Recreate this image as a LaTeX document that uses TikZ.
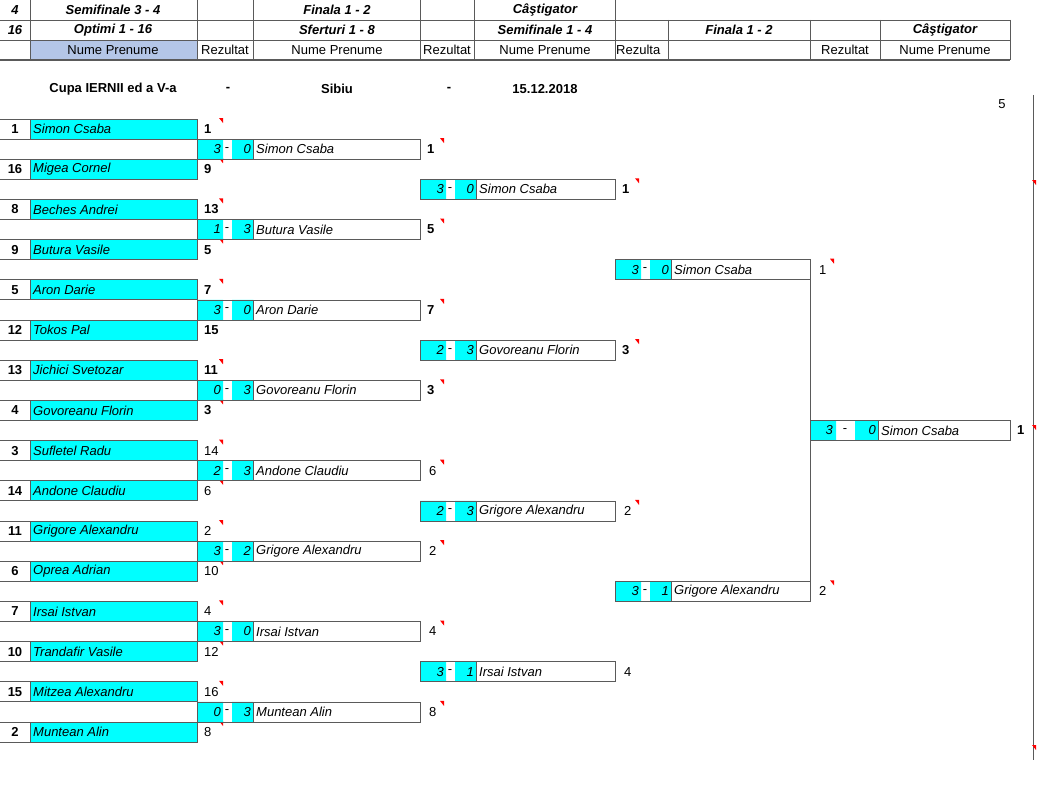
\documentclass[tikz,border=0pt]{standalone}
\usepackage{fontspec}
\setmainfont{Liberation Sans}
\definecolor{cellcyan}{RGB}{0,255,255}
\definecolor{hdrblue}{RGB}{180,198,231}
\definecolor{gridgray}{RGB}{90,90,90}
\tikzset{
  cell/.style={draw=gridgray,line width=0.8pt},
  namecell/.style={cell,fill=cellcyan},
  txt/.style={inner sep=1pt,font=\fontsize{13}{15}\selectfont},
  hdr/.style={txt,font=\fontsize{13}{15}\selectfont\bfseries\itshape},
  mark/.style={},
  redmark/.style={fill=red,draw=none}
}
\newcommand{\rowtop}[1]{119+20.1*#1}
\begin{document}
\begin{tikzpicture}[x=1pt,y=-1pt]
\useasboundingbox (0,0) rectangle (1037,800);
% header
\fill[hdrblue] (30,40) rectangle (197,60);
\draw[gridgray,line width=0.8pt] (0,20) -- (1010,20) (0,40) -- (1010,40);
\draw[gridgray,line width=1.4pt] (0,60) -- (1010,60);
\foreach \hx in {30,197,253,420,474,615} \draw[gridgray,line width=0.8pt] (\hx,0) -- (\hx,60);
\foreach \hx in {668,810,880,1010} \draw[gridgray,line width=0.8pt] (\hx,20) -- (\hx,60);
\node[hdr] (h4) at (15,10) {4};
\node[hdr] (h16) at (15,30) {16};
\node[hdr] (hsemi34) at (113,10) {Semifinale 3 - 4};
\node[hdr] (hopt) at (113,30) {Optimi 1 - 16};
\node[hdr] (hfin1) at (337,10) {Finala 1 - 2};
\node[hdr] (hsf) at (337,30) {Sferturi 1 - 8};
\node[hdr] (hcast1) at (545,10) {Câştigator};
\node[hdr] (hsemi14) at (545,30) {Semifinale 1 - 4};
\node[hdr] (hfin2) at (739,30) {Finala 1 - 2};
\node[hdr] (hcast2) at (945,30) {Câştigator};
\node[txt] (hn1) at (113,50) {Nume Prenume};
\node[txt] (hr1) at (225,50) {Rezultat};
\node[txt] (hn2) at (337,50) {Nume Prenume};
\node[txt] (hr2) at (447,50) {Rezultat};
\node[txt] (hn3) at (545,50) {Nume Prenume};
\node[txt,anchor=west] (hr3) at (615,50) {Rezulta};
\node[txt] (hr4) at (845,50) {Rezultat};
\node[txt] (hn4) at (945,50) {Nume Prenume};
% title line
\begin{scope}[every node/.style={txt,font=\fontsize{13}{15}\selectfont\bfseries}]
\node (cupa) at (113,89) {Cupa IERNII ed a V-a};
\node (d1) at (228,89) {-};
\node (oras) at (337,89) {Sibiu};
\node (d2) at (449,89) {-};
\node (data) at (545,89) {15.12.2018};
\end{scope}
\node[txt] (five) at (1002,104) {5};
\draw[gridgray,line width=0.8pt] (1033,95) -- (1033,760);
\foreach \my in {180,425,745} \fill[redmark] (1032,\my) -- (1036,\my) -- (1036,\my+5) -- cycle;
% round 1 players
\foreach \r/\s/\n/\v/\b in {0/1/Simon Csaba/1/1,2/16/Migea Cornel/9/1,4/8/Beches Andrei/13/1,6/9/Butura Vasile/5/1,
  8/5/Aron Darie/7/1,10/12/Tokos Pal/15/1,12/13/Jichici Svetozar/11/1,14/4/Govoreanu Florin/3/1,
  16/3/Sufletel Radu/14/0,18/14/Andone Claudiu/6/0,20/11/Grigore Alexandru/2/0,22/6/Oprea Adrian/10/0,
  24/7/Irsai Istvan/4/0,26/10/Trandafir Vasile/12/0,28/15/Mitzea Alexandru/16/0,30/2/Muntean Alin/8/0}{
  \draw[namecell] (30,{\rowtop{\r}}) rectangle (197,{\rowtop{\r}+20});
  \draw[cell] (0,{\rowtop{\r}}) -- (30,{\rowtop{\r}}) (0,{\rowtop{\r}+20}) -- (30,{\rowtop{\r}+20});
  \node[txt,font=\fontsize{13}{15}\selectfont\bfseries] (seed\r) at (15,{\rowtop{\r}+10}) {\s};
  \node[txt,anchor=west,font=\fontsize{13}{15}\selectfont\itshape] (pl\r) at (32,{\rowtop{\r}+10}) {\n};
  \ifnum\b=1
    \node[txt,anchor=west,font=\fontsize{13}{15}\selectfont\bfseries] (res\r) at (203,{\rowtop{\r}+10}) {\v};
  \else
    \node[txt,anchor=west] (res\r) at (203,{\rowtop{\r}+10}) {\v};
  \fi
  \ifnum\r=10 \else
    \fill[redmark] (219,{\rowtop{\r}-1}) -- (223,{\rowtop{\r}-1}) -- (223,{\rowtop{\r}+4}) -- cycle;
  \fi
}
% matches: x0 / x1 (end of name box) / row / score a / score b / winner / result / bold / mark
\foreach \xa/\xb/\r/\sa/\sb/\n/\v/\b/\m in {
  197/420/1/3/0/Simon Csaba/1/1/1, 197/420/5/1/3/Butura Vasile/5/1/1,
  197/420/9/3/0/Aron Darie/7/1/1, 197/420/13/0/3/Govoreanu Florin/3/1/1,
  197/420/17/2/3/Andone Claudiu/6/0/1, 197/420/21/3/2/Grigore Alexandru/2/0/1,
  197/420/25/3/0/Irsai Istvan/4/0/1, 197/420/29/0/3/Muntean Alin/8/0/1,
  420/615/3/3/0/Simon Csaba/1/1/1, 420/615/11/2/3/Govoreanu Florin/3/1/1,
  420/615/19/2/3/Grigore Alexandru/2/0/1, 420/615/27/3/1/Irsai Istvan/4/0/0,
  615/810/7/3/0/Simon Csaba/1/0/1, 615/810/23/3/1/Grigore Alexandru/2/0/1}{
  \pgfmathsetmacro{\ya}{\rowtop{\r}}
  \fill[cellcyan] (\xa,\ya) rectangle (\xa+26,\ya+20) (\xa+35,\ya) rectangle (\xa+56,\ya+20);
  \draw[cell] (\xa,\ya) rectangle (\xb,\ya+20) (\xa+56,\ya) -- (\xa+56,\ya+20);
  \node[txt,anchor=east,font=\fontsize{13}{15}\selectfont\itshape] (sa\xa\r) at (\xa+25,\ya+10) {\sa};
  \node[txt] (dash\xa\r) at (\xa+30,\ya+10) {-};
  \node[txt,anchor=east,font=\fontsize{13}{15}\selectfont\itshape] (sb\xa\r) at (\xa+55,\ya+10) {\sb};
  \node[txt,anchor=west,font=\fontsize{13}{15}\selectfont\itshape] (w\xa\r) at (\xa+58,\ya+10) {\n};
  \ifnum\b=1
    \node[txt,anchor=west,font=\fontsize{13}{15}\selectfont\bfseries] (r\xa\r) at (\xb+6,\ya+10) {\v};
  \else
    \node[txt,anchor=west] (r\xa\r) at (\xb+8,\ya+10) {\v};
  \fi
  \ifnum\m=1
    \fill[redmark] (\xb+20,\ya-1) -- (\xb+24,\ya-1) -- (\xb+24,\ya+4) -- cycle;
  \fi
}
% final
\pgfmathsetmacro{\yf}{\rowtop{15}}
\fill[cellcyan] (810,\yf) rectangle (836,\yf+20) (855,\yf) rectangle (878,\yf+20);
\draw[cell] (810,\yf) rectangle (1010,\yf+20) (878,\yf) -- (878,\yf+20);
\node[txt,anchor=east,font=\fontsize{13}{15}\selectfont\itshape] (fsa) at (834,\yf+10) {3};
\node[txt] (fdash) at (845,\yf+10) {-};
\node[txt,anchor=east,font=\fontsize{13}{15}\selectfont\itshape] (fsb) at (877,\yf+10) {0};
\node[txt,anchor=west,font=\fontsize{13}{15}\selectfont\itshape] (fw) at (880,\yf+10) {Simon Csaba};
\node[txt,anchor=west,font=\fontsize{13}{15}\selectfont\bfseries] (fr) at (1016,\yf+10) {1};
% bracket connectors
\foreach \r in {1,9,17,25} \draw[cell] (420,{\rowtop{\r}+20}) -- (420,{\rowtop{\r+4}});
\foreach \r in {3,19} \draw[cell] (615,{\rowtop{\r}+20}) -- (615,{\rowtop{\r+8}});
\draw[cell] (810,{\rowtop{7}+20}) -- (810,{\rowtop{23}});
\end{tikzpicture}
\end{document}
